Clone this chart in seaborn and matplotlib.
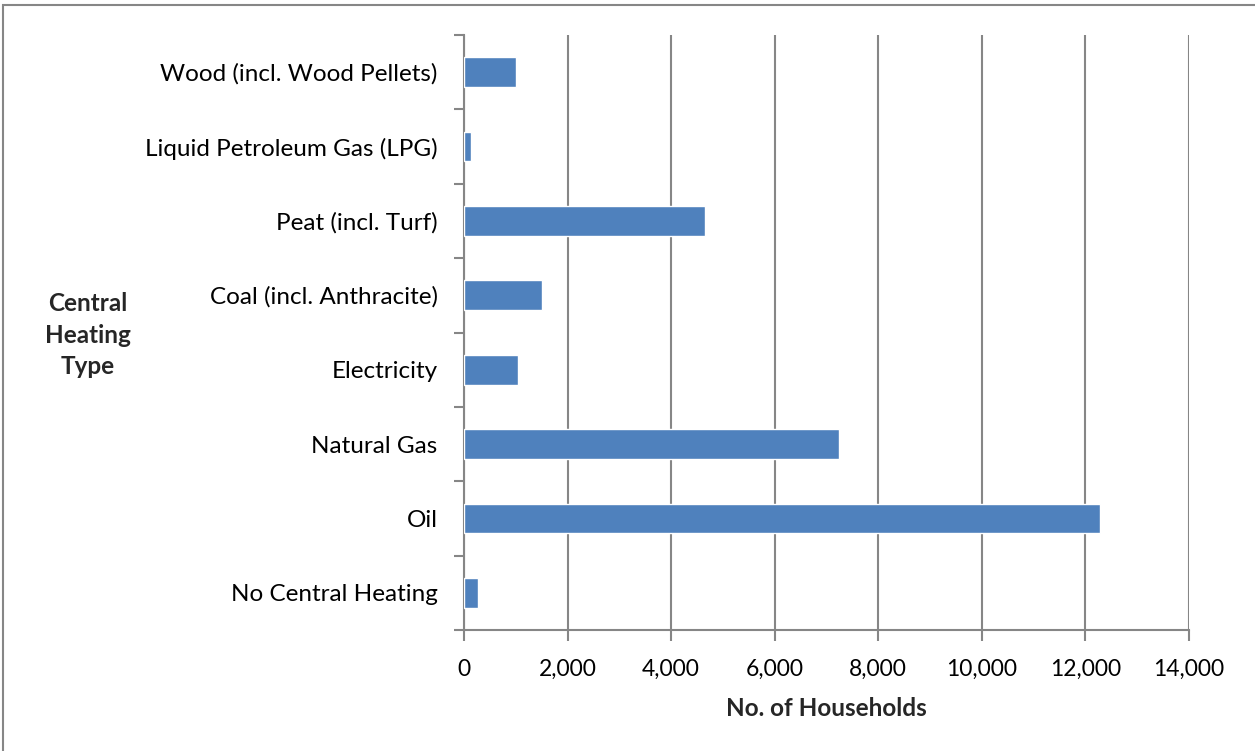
import pandas as pd
import matplotlib.pyplot as plt
import seaborn as sns
from matplotlib.patches import Rectangle
from matplotlib.ticker import FuncFormatter

# DATA (top to bottom as drawn)
heating_types = [
    "Wood (incl. Wood Pellets)",
    "Liquid Petroleum Gas (LPG)",
    "Peat (incl. Turf)",
    "Coal (incl. Anthracite)",
    "Electricity",
    "Natural Gas",
    "Oil",
    "No Central Heating",
]
households = [1003, 135, 4656, 1511, 1035, 7241, 12284, 267]

df = pd.DataFrame({"Type": heating_types, "Households": households})

# STYLE
sns.set_theme(style="white")
plt.rcParams['font.family'] = ['Lato', 'DejaVu Sans']
grey = "#868686"

fig = plt.figure(figsize=(12.55, 7.51), dpi=100)
ax = fig.add_axes([464 / 1255, 1 - 630 / 751, (1189 - 464) / 1255, (630 - 35) / 751])

sns.barplot(data=df, x="Households", y="Type", color="#4F81BD", width=0.4,
            saturation=1, orient="h", ax=ax, zorder=3)

ax.set_xlim(0, 14000)
ax.set_ylim(len(heating_types) - 0.5, -0.5)
ax.set_xticks(range(0, 14001, 2000))
ax.xaxis.set_major_formatter(FuncFormatter(lambda v, p: f"{int(v):,}"))
ax.grid(axis="x", color=grey, linewidth=1.5, zorder=0)
ax.set_axisbelow(True)

# category boundaries as outward ticks
ax.set_yticks([i - 0.5 for i in range(len(heating_types) + 1)], minor=True)
ax.tick_params(axis="y", which="minor", length=7, width=1.5, color=grey, left=True)
ax.tick_params(axis="y", which="major", length=0, pad=19, labelsize=17.5, labelcolor="black")
ax.tick_params(axis="x", which="major", length=8, width=1.5, color=grey, bottom=True,
               pad=13, labelsize=16.5, labelcolor="black")

for side in ["top", "right"]:
    ax.spines[side].set_visible(False)
for side in ["left", "bottom"]:
    ax.spines[side].set_color(grey)
    ax.spines[side].set_linewidth(1.5)

ax.set_xlabel("No. of Households", fontsize=17.5, fontweight="bold", labelpad=12)
ax.set_ylabel("")
fig.text(88 / 1255, 1 - 335 / 751, "Central\nHeating\nType", ha="center", va="center",
         fontsize=17.5, fontweight="bold", linespacing=1.45)

# outer chart border
fig.patches.append(Rectangle((3 / 1255, -0.01), 1.1, 1 - 5 / 751 + 0.01,
                             transform=fig.transFigure, fill=False,
                             edgecolor=grey, linewidth=1.5))

fig.savefig("out.png", dpi=100)
